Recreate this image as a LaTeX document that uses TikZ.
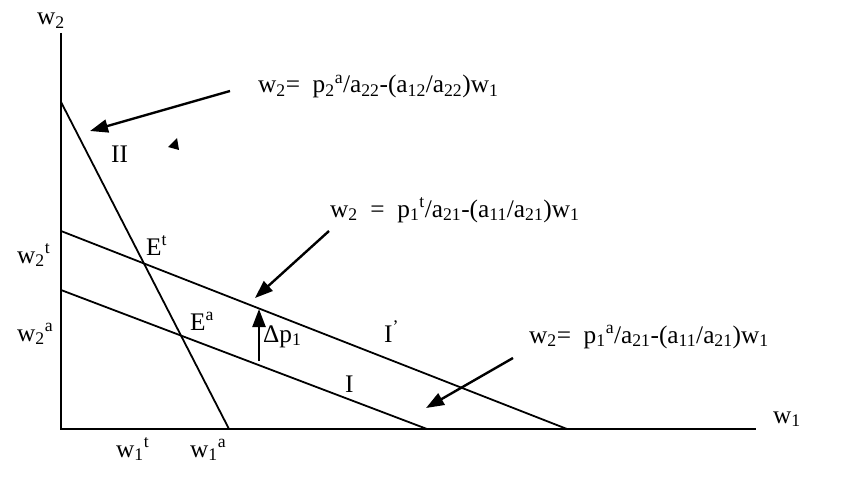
\documentclass[tikz,border=0pt]{standalone}
\usepackage{fontspec}
\setmainfont{Liberation Serif}
\usetikzlibrary{arrows.meta}

\tikzset{
  lbl/.style={inner sep=0pt,anchor=base west,font=\fontsize{25.3}{30}\selectfont},
  curve/.style={line width=1.8pt},
  pointer/.style={line width=2.4pt,-{Triangle[length=18pt,width=13pt]}}
}
\newcommand{\lo}[1]{\textsubscript{#1}}
\newcommand{\hi}[1]{\textsuperscript{#1}}

\begin{document}
\begin{tikzpicture}[x=1pt,y=1pt]
\useasboundingbox (0,0) rectangle (850,480);
% axes
\coordinate (O) at (61,51);
\coordinate (Ytop) at (61,447);
\coordinate (Xend) at (756,51);
\draw[curve] (Ytop) -- (O) -- (Xend);
\node[lbl] (w2ax) at (37,455) {w\lo{2}};
\node[lbl] (w1ax) at (773,57) {w\lo{1}};
% lines
\coordinate (A2) at (61,378);
\coordinate (B2) at (229,51);
\coordinate (At) at (61,249);
\coordinate (Bt) at (567,51);
\coordinate (Aa) at (61,190);
\coordinate (Ba) at (427,51);
\draw[curve] (A2) -- (B2);
\draw[curve] (At) -- (Bt);
\draw[curve] (Aa) -- (Ba);
% labels on the axes
\node[lbl] (w2t) at (17,217) {w\lo{2}\hi{t}};
\node[lbl] (w2a) at (17,139) {w\lo{2}\hi{a}};
\node[lbl] (w1t) at (116,23) {w\lo{1}\hi{t}};
\node[lbl] (w1a) at (190,23) {w\lo{1}\hi{a}};
% regions and points
\node[lbl] (II) at (111,317) {II};
\node[lbl] (Et) at (146,225) {E\hi{t}};
\node[lbl] (Ea) at (190,150) {E\hi{a}};
\node[lbl] (Ip) at (384,138) {I\hi{'}};
\node[lbl] (I) at (345,88) {I};
\node[lbl] (dp) at (263,138) {Δp\lo{1}};
\fill (168,333) -- (177,342) -- (179,330) -- cycle;
% equations
\node[lbl] (eq1) at (258,387) {w\lo{2}=\ \ p\lo{2}\hi{a}/a\lo{22}-(a\lo{12}/a\lo{22})w\lo{1}};
\node[lbl] (eq2) at (330,263) {w\lo{2}\ \ =\ \ p\lo{1}\hi{t}/a\lo{21}-(a\lo{11}/a\lo{21})w\lo{1}};
\node[lbl] (eq3) at (529,137) {w\lo{2}=\ \ p\lo{1}\hi{a}/a\lo{21}-(a\lo{11}/a\lo{21})w\lo{1}};
% arrows
\coordinate (t1) at (230,389);
\coordinate (h1) at (90,349);
\coordinate (t2) at (329,249);
\coordinate (h2) at (255,182);
\coordinate (t3) at (513,122);
\coordinate (h3) at (426,72);
\coordinate (td) at (259,119);
\coordinate (hd) at (259,171);
\draw[pointer] (t1) -- (h1);
\draw[pointer] (t2) -- (h2);
\draw[pointer] (t3) -- (h3);
\draw[pointer] (td) -- (hd);
\end{tikzpicture}
\end{document}
